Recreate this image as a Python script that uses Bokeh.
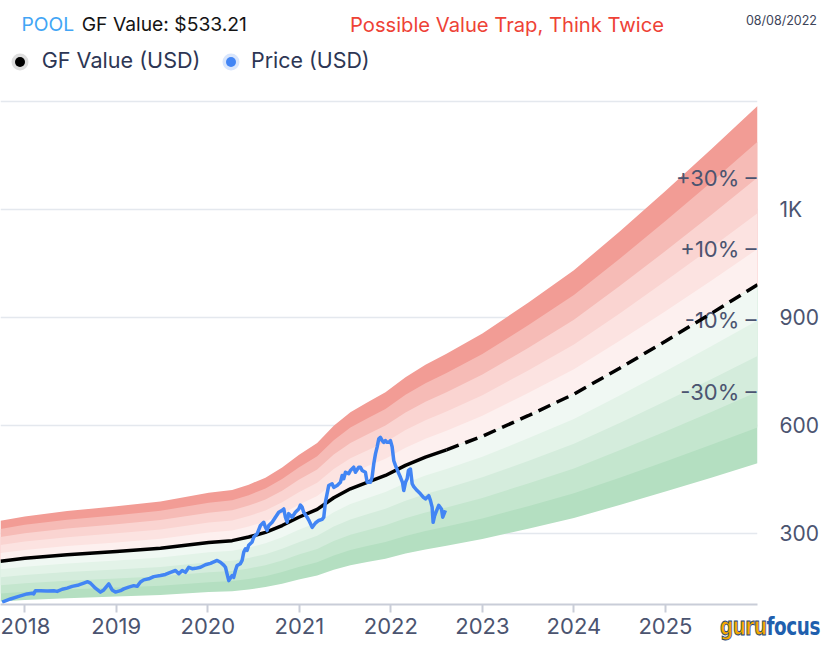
import numpy as np
from bokeh.plotting import figure
from bokeh.layouts import column
from bokeh.models import Range1d, FixedTicker, Div
from bokeh.core.properties import value
from bokeh.embed import file_html
from bokeh.resources import INLINE

# ---------------- data ----------------
ticker_symbol = "POOL"
gf_value_label = "GF Value: $533.21"
verdict = "Possible Value Trap, Think Twice"
as_of_date = "08/08/2022"
legend_labels = ["GF Value (USD)", "Price (USD)"]
logo_parts = ["guru", "focus"]

gf_years = [2017.735, 2018.0, 2018.463, 2019.002, 2019.483, 2020.010, 2020.266,
            2020.447, 2020.630, 2020.812, 2020.994, 2021.195, 2021.376, 2021.558,
            2021.741, 2021.941, 2022.160, 2022.378, 2022.608, 2023.0, 2023.5,
            2024.0, 2024.5, 2025.0, 2025.5, 2026.006]
gf_values = [224, 232, 242, 251, 260, 276, 281, 291, 304, 323, 346, 368, 400, 425,
             443, 462, 490, 513, 533.21, 571, 628, 688, 760, 835, 912, 992]
gf_last_actual_year = 2022.608

price_years = [2017.753, 2017.844, 2017.934, 2018.026, 2018.081, 2018.098, 2018.117,
               2018.172, 2018.245, 2018.317, 2018.354, 2018.409, 2018.463, 2018.518,
               2018.590, 2018.645, 2018.688, 2018.718, 2018.772, 2018.827, 2018.863,
               2018.918, 2018.955, 2018.991, 2019.046, 2019.082, 2019.136, 2019.191,
               2019.228, 2019.264, 2019.300, 2019.355, 2019.409, 2019.483, 2019.537,
               2019.592, 2019.647, 2019.683, 2019.720, 2019.756, 2019.792, 2019.829,
               2019.865, 2019.920, 2019.974, 2020.029, 2020.102, 2020.138, 2020.174,
               2020.193, 2020.211, 2020.229, 2020.266, 2020.283, 2020.302, 2020.320,
               2020.356, 2020.375, 2020.393, 2020.411, 2020.430, 2020.447, 2020.484,
               2020.502, 2020.539, 2020.575, 2020.611, 2020.630, 2020.648, 2020.666,
               2020.703, 2020.739, 2020.775, 2020.812, 2020.830, 2020.848, 2020.867,
               2020.884, 2020.921, 2020.957, 2020.994, 2021.012, 2021.030, 2021.048,
               2021.085, 2021.103, 2021.140, 2021.176, 2021.212, 2021.249, 2021.267,
               2021.285, 2021.321, 2021.358, 2021.376, 2021.413, 2021.449, 2021.468,
               2021.485, 2021.504, 2021.540, 2021.558, 2021.594, 2021.613, 2021.649,
               2021.667, 2021.686, 2021.722, 2021.741, 2021.777, 2021.795, 2021.813,
               2021.832, 2021.850, 2021.868, 2021.886, 2021.905, 2021.922, 2021.941,
               2021.959, 2021.977, 2021.995, 2022.014, 2022.032, 2022.050, 2022.072,
               2022.105, 2022.127, 2022.141, 2022.160, 2022.178, 2022.192, 2022.214,
               2022.233, 2022.250, 2022.287, 2022.323, 2022.356, 2022.378, 2022.414,
               2022.433, 2022.451, 2022.462, 2022.476, 2022.487, 2022.523, 2022.553,
               2022.567, 2022.596]
price_values = [110, 119, 126, 133, 135, 133, 142, 142, 141, 142, 140, 146, 149, 154,
                158, 163, 167, 163, 149, 138, 144, 161, 144, 138, 142, 147, 152, 156,
                154, 166, 172, 175, 181, 184, 187, 193, 198, 189, 198, 193, 207, 203,
                204, 207, 214, 218, 226, 221, 213, 207, 188, 170, 184, 179, 198, 212,
                217, 226, 249, 258, 254, 268, 277, 291, 300, 323, 332, 318, 309, 323,
                332, 346, 360, 365, 369, 346, 332, 356, 346, 360, 369, 380, 374, 360,
                346, 338, 318, 330, 337, 340, 346, 388, 434, 439, 429, 434, 443, 462,
                453, 471, 467, 476, 485, 471, 485, 485, 476, 471, 443, 443, 457, 494,
                522, 541, 564, 568, 559, 554, 559, 554, 554, 559, 542, 503, 490, 476,
                457, 443, 420, 443, 453, 476, 480, 439, 431, 420, 411, 401, 397, 406,
                392, 374, 332, 348, 356, 379, 369, 346, 365]

x_tick_years = [2018, 2019, 2020, 2021, 2022, 2023, 2024, 2025]
y_ticks = [300, 600, 900, 1200, 1500]
y_tick_labels = ["300", "600", "900", "1K", ""]
band_steps = [0.1, 0.2, 0.3, 0.4, 0.5]
band_label_pcts = [30, 10, -10, -30]
band_label_texts = ["+30%", "+10%", "-10%", "-30%"]

# ---------------- styles ----------------
FONT = "Inter"
SLATE = "#4b5470"
PRICE_BLUE = "#4285f4"
red_colors = ["#fdf0ef", "#fce3e1", "#fad4d1", "#f6bbb6", "#f29c95"]
green_colors = ["#f0f8f3", "#e3f3e8", "#d4ecdc", "#c4e6ce", "#b4dfc1"]

X0, X1 = 2017.735, 2026.006
Y0, Y1 = 103.6, 1506.4

gy = np.array(gf_years, dtype=float)
gv = np.array(gf_values, dtype=float)
hist = gy <= gf_last_actual_year + 1e-9
proj = gy >= gf_last_actual_year - 1e-9


# ---------------- header (HTML) ----------------
def span(left, baseline, text, color, size, right=False):
    top = baseline - 0.864 * size
    pos = f"right:{828 - left}px" if right else f"left:{left}px"
    return (f'<span style="position:absolute;{pos};top:{top:.1f}px;font-size:{size}px;'
            f'line-height:1;color:{color};white-space:nowrap;">{text}</span>')


def dot(cx, cy, color, halo):
    return (f'<span style="position:absolute;left:{cx - 5}px;top:{cy - 5}px;width:10px;'
            f'height:10px;border-radius:50%;background:{color};'
            f'box-shadow:0 0 0 3.5px {halo};"></span>')


header_html = (
    '<div style="position:relative;width:828px;height:99px;font-family:Inter,sans-serif;">'
    + span(21.5, 32, ticker_symbol, "#42a5f5", 19.3)
    + span(81.7, 32, gf_value_label, "#141414", 19.3)
    + span(350, 32, verdict, "#ee4236", 20.2)
    + span(817, 25.7, as_of_date, "#3d4459", 12.5, right=True)
    + dot(20, 61.7, "#000000", "#dedede")
    + dot(231, 61.7, PRICE_BLUE, "#d9e6fc")
    + span(41.7, 68.5, legend_labels[0], "#2d3654", 21.6)
    + span(251, 68.5, legend_labels[1], "#2d3654", 21.4)
    + '</div>'
)
header = Div(text=header_html, width=828, height=99, margin=0)

# ---------------- main chart ----------------
p = figure(width=828, height=549, x_range=Range1d(X0, X1), y_range=Range1d(Y0, Y1),
           output_backend="svg", toolbar_location=None, y_axis_location="right",
           min_border_left=0, min_border_right=71, min_border_top=0, min_border_bottom=44)
p.outline_line_color = None
p.background_fill_color = "white"
p.xgrid.visible = False
p.ygrid.ticker = FixedTicker(ticks=y_ticks)
p.ygrid.grid_line_color = "#e4e8ee"
p.ygrid.grid_line_width = 1.5

p.yaxis.ticker = FixedTicker(ticks=y_ticks)
p.yaxis.major_label_overrides = {t: l for t, l in zip(y_ticks, y_tick_labels)}
p.yaxis.axis_line_color = None
p.yaxis.major_tick_line_color = None
p.yaxis.major_tick_out = 0
p.yaxis.major_tick_in = 0
p.yaxis.minor_tick_line_color = None
p.yaxis.minor_tick_out = 0
p.yaxis.major_label_standoff = 22
p.yaxis.major_label_text_font = FONT
p.yaxis.major_label_text_font_size = "21px"
p.yaxis.major_label_text_color = SLATE

p.xaxis.ticker = FixedTicker(ticks=x_tick_years)
p.xaxis.major_label_overrides = {y: str(y) for y in x_tick_years}
p.xaxis.axis_line_color = "#c9cdd8"
p.xaxis.axis_line_width = 2
p.xaxis.major_tick_line_color = "#c9cdd8"
p.xaxis.major_tick_line_width = 2
p.xaxis.major_tick_out = 8
p.xaxis.major_tick_in = 0
p.xaxis.minor_tick_line_color = None
p.xaxis.major_label_standoff = 5
p.xaxis.major_label_text_font = FONT
p.xaxis.major_label_text_font_size = "22px"
p.xaxis.major_label_text_color = SLATE

# bands around GF Value (outermost first so inner, lighter bands sit on top)
for step, col in reversed(list(zip(band_steps, red_colors))):
    p.varea(x=gy, y1=gv, y2=gv * (1 + step), fill_color=col)
for step, col in reversed(list(zip(band_steps, green_colors))):
    p.varea(x=gy, y1=gv * (1 - step), y2=gv, fill_color=col)

# band labels at right edge
p.text(x=[gy[-1]] * len(band_label_pcts),
       y=[gv[-1] * (1 + pct / 100) for pct in band_label_pcts],
       text=[t + " \u2013" for t in band_label_texts],
       text_align="right", text_baseline="middle", x_offset=-1,
       text_font=value(FONT), text_font_size="22px", text_color=SLATE)

# GF value line: actual (solid) and projected (dashed)
p.line(gy[hist], gv[hist], line_color="black", line_width=3.5, line_join="round")
p.line(gy[proj], gv[proj], line_color="black", line_width=3.5, line_dash="13 7")

# price line
p.line(price_years, price_values, line_color=PRICE_BLUE, line_width=3.5, line_join="round")

# ---------------- logo (HTML overlay in the bottom-right corner) ----------------
logo_html = (
    '<div style="position:relative;width:104px;height:28px;overflow:visible;">'
    '<div style="position:absolute;left:0;top:0;transform:scale(0.97,1.3);transform-origin:0 100%;'
    "font-family:'DejaVu Sans',sans-serif;"
    'font-weight:bold;font-size:19px;line-height:1;letter-spacing:-0.5px;white-space:nowrap;">'
    f'<span style="color:#f5a800;-webkit-text-stroke:0.7px #24467e;">{logo_parts[0]}</span>'
    f'<span style="color:#1f5fae;">{logo_parts[1]}</span></div></div>'
)
logo = Div(text=logo_html, width=104, height=28, margin=(-28, 0, 0, 720))

layout = column(header, p, logo, spacing=0)

open("out.html", "w").write(file_html(layout, INLINE))
